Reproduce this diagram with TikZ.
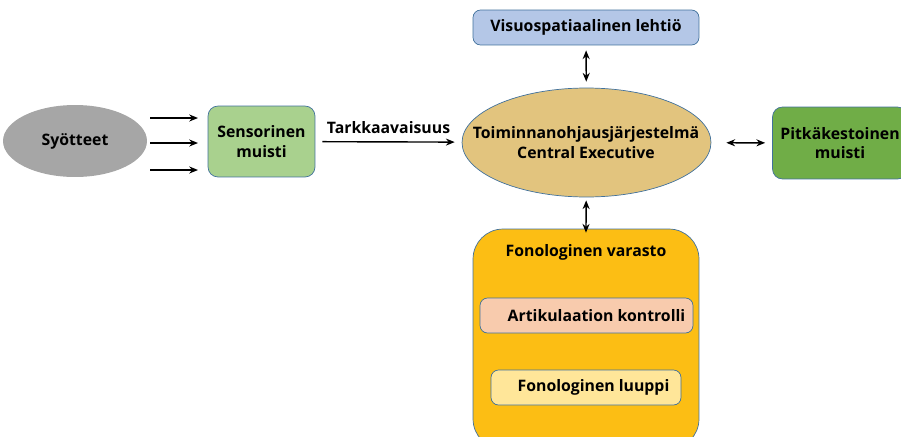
\documentclass[tikz,border=0pt]{standalone}
\usepackage{fontspec}
\setmainfont{Open Sans}
\usetikzlibrary{arrows.meta,shapes.geometric}
\definecolor{rim}{HTML}{41719C}
\definecolor{inputgray}{HTML}{A6A6A6}
\definecolor{sensgreen}{HTML}{A9D18E}
\definecolor{ltmgreen}{HTML}{70AD47}
\definecolor{cetan}{HTML}{E2C47E}
\definecolor{vsblue}{HTML}{B4C7E7}
\definecolor{phgold}{HTML}{FCBE14}
\definecolor{artpeach}{HTML}{F8CBAD}
\definecolor{looplight}{HTML}{FFE699}
\begin{document}
\begin{tikzpicture}[x=0.02cm,y=-0.02cm,font=\fontsize{9}{11}\selectfont\bfseries]
      \tikzstyle{box}=[draw=rim,rectangle,rounded corners=0.2cm,align=center,inner sep=0pt]
      \tikzstyle{oval}=[ellipse,align=center,inner sep=0pt]
      \tikzstyle{edge}=[draw,thick,-{Stealth[length=5pt,width=4pt]}]
      \tikzstyle{both}=[draw,thick,{Stealth[length=5pt,width=4pt]}-{Stealth[length=5pt,width=4pt]}]
      \useasboundingbox (0,0) rectangle (901,436);
      \clip (0,0) rectangle (901,436);
      % inputs and sensory memory
      \node[oval,fill=inputgray,minimum width=2.88cm,minimum height=1.44cm] (S) at (75,141) {Syötteet};
      \node[box,fill=sensgreen,minimum width=2.14cm,minimum height=1.42cm] (SM) at (261.5,141.5) {Sensorinen\\muisti};
      \coordinate (I1) at (150,118);
      \coordinate (O1) at (198,118);
      \coordinate (I2) at (150,143);
      \coordinate (O2) at (198,143);
      \coordinate (I3) at (150,170);
      \coordinate (O3) at (198,170);
      \path[edge] (I1) -- (O1);
      \path[edge] (I2) -- (O2);
      \path[edge] (I3) -- (O3);
      % central executive and its slaves
      \node[oval,draw=rim,fill=cetan,minimum width=4.98cm,minimum height=2.18cm] (CE) at (586.5,142.5) {};
      \node[align=center] (CEt) at (586,142.5) {Toiminnanohjausjärjestelmä\\Central Executive};
      \node[box,fill=vsblue,rounded corners=0.15cm,minimum width=4.52cm,minimum height=0.7cm] (VL) at (586,27.5) {Visuospatiaalinen lehtiö};
      \node[box,fill=ltmgreen,minimum width=2.7cm,minimum height=1.44cm] (PM) at (840,143) {Pitkäkestoinen\\muisti};
      \node[box,fill=phgold,rounded corners=0.6cm,minimum width=4.52cm,minimum height=4.4cm] (FV) at (586,339) {};
      \node (FVt) at (586,252) {Fonologinen varasto};
      \node[box,fill=artpeach,rounded corners=0.15cm,minimum width=4.26cm,minimum height=0.7cm] (AK) at (586.5,315.5) {\hspace{0.4cm}Artikulaation kontrolli};
      \node[box,fill=looplight,rounded corners=0.15cm,minimum width=3.8cm,minimum height=0.7cm] (FL) at (586,387.5) {\hspace{0.3cm}Fonologinen luuppi};
      \path[edge,shorten <=0.14cm,shorten >=0.14cm] (SM) -- node[above=1pt] {Tarkkaavaisuus} (CE);
      \path[both,shorten <=0.1cm,shorten >=0.12cm] (VL) -- (CE);
      \path[both,shorten <=0.3cm,shorten >=0.14cm] (CE) -- (PM);
      \path[both,shorten <=0.06cm,shorten >=-0.08cm] (CE) -- (FV.north);
    \end{tikzpicture}
\end{document}
